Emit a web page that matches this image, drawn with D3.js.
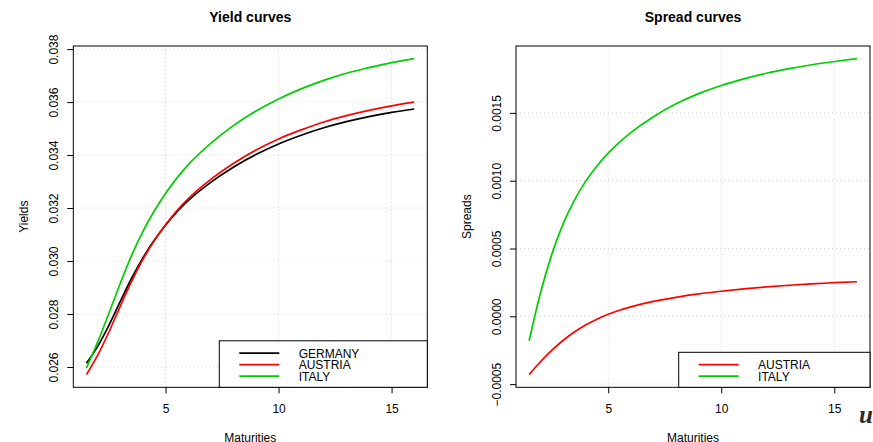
<!DOCTYPE html>
<html>
<head>
<meta charset="utf-8">
<script src="https://cdn.jsdelivr.net/npm/d3@7"></script>
<style>
  body { margin: 0; background: #fff; }
  text { font-family: "Liberation Sans", Arial, Helvetica, sans-serif; }
</style>
</head>
<body>
<div id="chart"></div>
<script>
// values
const maturities = [1.5, 2, 2.5, 3, 3.5, 4, 4.5, 5, 5.5, 6, 7, 8, 9, 10, 11, 12, 13, 14, 15, 16];

const germanyYields = [0.02614, 0.02678, 0.02758, 0.02848, 0.02935, 0.03012, 0.03078, 0.03135, 0.03185, 0.03228,
                       0.03297, 0.03354, 0.03402, 0.03442, 0.03475, 0.03503, 0.03526, 0.03545, 0.03561, 0.03574];
const austriaYields = [0.02571, 0.02645, 0.02733, 0.02830, 0.02923, 0.03006, 0.03076, 0.03137, 0.03190, 0.03235,
                       0.03308, 0.03368, 0.03419, 0.03461, 0.03495, 0.03525, 0.03549, 0.03569, 0.03586, 0.03600];
const italyYields   = [0.02596, 0.02695, 0.02804, 0.02916, 0.03021, 0.03112, 0.03189, 0.03255, 0.03313, 0.03363,
                       0.03444, 0.03511, 0.03566, 0.03612, 0.03650, 0.03682, 0.03709, 0.03730, 0.03749, 0.03764];

const austriaSpreads = [-0.00043, -0.000335, -0.000251, -0.000178, -0.000116, -0.000064, -0.000021, 0.000015, 0.000045, 0.00007,
                        0.00011, 0.00014, 0.000165, 0.000185, 0.000202, 0.000217, 0.000229, 0.00024, 0.000248, 0.000255];
const italySpreads   = [-0.00018, 0.00017, 0.000455, 0.00068, 0.000855, 0.000995, 0.001109, 0.001204, 0.001284, 0.001354,
                        0.001472, 0.001567, 0.001642, 0.001702, 0.001751, 0.001792, 0.001826, 0.001855, 0.001879, 0.0019];

const maturityTicks = [5, 10, 15];
const yieldTicks = [0.026, 0.028, 0.030, 0.032, 0.034, 0.036, 0.038];
const spreadTicks = [-0.0005, 0.0000, 0.0005, 0.0010, 0.0015];

const width = 873, height = 442;
const plotTop = 46, plotBottom = 387.3;

const svg = d3.select("#chart")
    .append("svg")
    .attr("width", width)
    .attr("height", height);

// R style axis range: data extent padded by 4% on each side
function padded(values) {
    const ext = d3.extent(values);
    const d = (ext[1] - ext[0]) * 0.04;
    return [ext[0] - d, ext[1] + d];
}

function drawPanel(p) {
    const g = svg.append("g");

    const x = d3.scaleLinear()
        .domain(padded(maturities))
        .range([p.left, p.right]);

    const y = d3.scaleLinear()
        .domain(padded(p.series.flatMap(s => s.values)))
        .range([plotBottom, plotTop]);

    // dotted grid
    g.append("g").selectAll("line")
        .data(p.yTicks)
        .enter().append("line")
        .attr("x1", p.left).attr("x2", p.right)
        .attr("y1", d => y(d)).attr("y2", d => y(d))
        .attr("stroke", "#d3d3d3")
        .attr("stroke-dasharray", "1,3");

    g.append("g").selectAll("line")
        .data(maturityTicks)
        .enter().append("line")
        .attr("x1", d => x(d)).attr("x2", d => x(d))
        .attr("y1", plotTop).attr("y2", plotBottom)
        .attr("stroke", "#d3d3d3")
        .attr("stroke-dasharray", "1,3");

    // curves
    const line = d3.line()
        .x(d => x(d[0]))
        .y(d => y(d[1]))
        .curve(d3.curveMonotoneX);

    g.append("g").selectAll("path")
        .data(p.series)
        .enter().append("path")
        .attr("d", s => line(maturities.map((m, i) => [m, s.values[i]])))
        .attr("fill", "none")
        .attr("stroke", s => s.color)
        .attr("stroke-width", 1.7);

    // axes
    const xAxis = g.append("g")
        .attr("transform", "translate(0," + plotBottom + ")")
        .call(d3.axisBottom(x).tickValues(maturityTicks).tickSize(6).tickFormat(d3.format("d")));
    xAxis.select(".domain").remove();
    xAxis.selectAll("text")
        .attr("y", 26)
        .attr("dy", null)
        .attr("fill", "#000")
        .style("font-size", "12px");

    const yAxis = g.append("g")
        .attr("transform", "translate(" + p.left + ",0)")
        .call(d3.axisLeft(y).tickValues(p.yTicks).tickSize(6).tickFormat(p.yFormat));
    yAxis.select(".domain").remove();
    yAxis.selectAll("text")
        .attr("x", 0)
        .attr("y", -15)
        .attr("dy", null)
        .attr("transform", "rotate(-90)")
        .attr("text-anchor", "middle")
        .attr("fill", "#000")
        .style("font-size", "12px");

    // box
    g.append("rect")
        .attr("x", p.left).attr("y", plotTop)
        .attr("width", p.right - p.left).attr("height", plotBottom - plotTop)
        .attr("fill", "none")
        .attr("stroke", "#000");

    // titles
    g.append("text")
        .attr("x", (p.left + p.right) / 2).attr("y", 22)
        .attr("text-anchor", "middle")
        .style("font-size", "14px")
        .style("font-weight", "bold")
        .text(p.title);

    g.append("text")
        .attr("x", (p.left + p.right) / 2).attr("y", 442)
        .attr("text-anchor", "middle")
        .style("font-size", "12px")
        .text("Maturities");

    g.append("text")
        .attr("transform", "translate(" + (p.left - 45) + "," + ((plotTop + plotBottom) / 2) + ") rotate(-90)")
        .attr("text-anchor", "middle")
        .style("font-size", "12px")
        .text(p.yLabel);

    // legend (bottom right)
    const rowH = 11.5;
    const legendTop = plotBottom - 11.5 - rowH * p.series.length - 0.5;
    const legend = g.append("g");
    legend.append("rect")
        .attr("x", p.legendLeft).attr("y", legendTop)
        .attr("width", p.right - p.legendLeft).attr("height", plotBottom - legendTop)
        .attr("fill", "#fff")
        .attr("stroke", "#000");

    const rows = legend.selectAll("g.row")
        .data(p.series)
        .enter().append("g")
        .attr("class", "row")
        .attr("transform", (s, i) => "translate(0," + (legendTop + 12.4 + i * rowH) + ")");
    rows.append("line")
        .attr("x1", p.legendLeft + 20).attr("x2", p.legendLeft + 60)
        .attr("stroke", s => s.color)
        .attr("stroke-width", 1.7);
    rows.append("text")
        .attr("x", p.legendLeft + 79.4)
        .attr("y", 4.3)
        .style("font-size", "12px")
        .text(s => s.name);
}

drawPanel({
    left: 73.3, right: 427.3,
    title: "Yield curves",
    yLabel: "Yields",
    yTicks: yieldTicks,
    yFormat: d3.format(".3f"),
    legendLeft: 219.3,
    series: [
        { name: "GERMANY", values: germanyYields, color: "#000000" },
        { name: "AUSTRIA", values: austriaYields, color: "#ff0000" },
        { name: "ITALY", values: italyYields, color: "#00cd00" }
    ]
});

drawPanel({
    left: 516, right: 870,
    title: "Spread curves",
    yLabel: "Spreads",
    yTicks: spreadTicks,
    yFormat: d3.format(".4f"),
    legendLeft: 678.7,
    series: [
        { name: "AUSTRIA", values: austriaSpreads, color: "#ff0000" },
        { name: "ITALY", values: italySpreads, color: "#00cd00" }
    ]
});

// cut-off logo glyph in the corner
svg.append("text")
    .attr("x", 859).attr("y", 423)
    .style("font-family", "'Liberation Serif', 'DejaVu Serif', serif")
    .style("font-size", "25px")
    .style("font-weight", "bold")
    .style("font-style", "italic")
    .attr("fill", "#2b2b2b")
    .text("u");
</script>
</body>
</html>
